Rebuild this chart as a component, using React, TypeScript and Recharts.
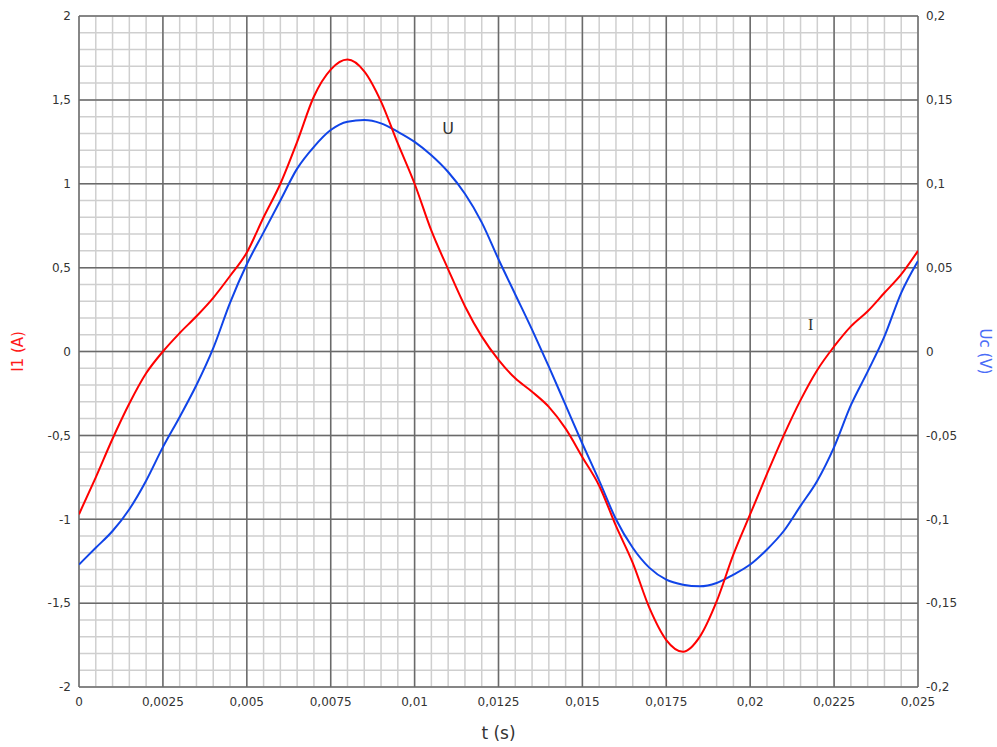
import { LineChart, Line, XAxis, YAxis, CartesianGrid, ReferenceDot } from "recharts"

// time samples (s), every 0.0005 s
const TIME = [
  0, 0.0005, 0.001, 0.0015, 0.002, 0.0025, 0.003, 0.0035, 0.004, 0.0045,
  0.005, 0.0055, 0.006, 0.0065, 0.007, 0.0075, 0.008, 0.0085, 0.009, 0.0095,
  0.01, 0.0105, 0.011, 0.0115, 0.012, 0.0125, 0.013, 0.0135, 0.014, 0.0145,
  0.015, 0.0155, 0.016, 0.0165, 0.017, 0.0175, 0.018, 0.0185, 0.019, 0.0195,
  0.02, 0.0205, 0.021, 0.0215, 0.022, 0.0225, 0.023, 0.0235, 0.024, 0.0245, 0.025,
]

// I1 (A), left axis
const CURRENT = [
  -0.97, -0.75, -0.52, -0.31, -0.13, 0.0, 0.11, 0.21, 0.32, 0.45,
  0.59, 0.8, 1.0, 1.25, 1.52, 1.68, 1.74, 1.67, 1.49, 1.24,
  1.0, 0.72, 0.49, 0.27, 0.09, -0.05, -0.16, -0.24, -0.33, -0.46,
  -0.63, -0.8, -1.04, -1.26, -1.53, -1.72, -1.79, -1.7, -1.49, -1.21,
  -0.97, -0.73, -0.5, -0.29, -0.11, 0.03, 0.15, 0.24, 0.35, 0.46, 0.6,
]

// Uc (V), right axis
const VOLTAGE = [
  -0.127, -0.117, -0.107, -0.094, -0.077, -0.057, -0.039, -0.02, 0.002, 0.029,
  0.052, 0.071, 0.09, 0.109, 0.122, 0.132, 0.137, 0.138, 0.136, 0.131,
  0.125, 0.117, 0.107, 0.094, 0.077, 0.055, 0.034, 0.013, -0.009, -0.032,
  -0.055, -0.077, -0.1, -0.117, -0.129, -0.136, -0.139, -0.14, -0.138, -0.133,
  -0.127, -0.118, -0.107, -0.092, -0.077, -0.057, -0.032, -0.012, 0.009, 0.035, 0.054,
]

const T_TICKS = [0, 0.0025, 0.005, 0.0075, 0.01, 0.0125, 0.015, 0.0175, 0.02, 0.0225, 0.025]
const I_TICKS = [-2, -1.5, -1, -0.5, 0, 0.5, 1, 1.5, 2]
const U_TICKS = [-0.2, -0.15, -0.1, -0.05, 0, 0.05, 0.1, 0.15, 0.2]

// fine grid: 5 divisions per major cell
const T_MINOR = Array.from({ length: 51 }, (_, k) => k * 0.0005)
const I_MINOR = Array.from({ length: 41 }, (_, k) => (k - 20) / 10)

const data = TIME.map((t, k) => ({ t, i: CURRENT[k], u: VOLTAGE[k] }))

const comma = (v: number) => String(v).replace(".", ",")
const tickStyle = { fill: "#333", fontSize: 12, fontFamily: "DejaVu Sans" }

function LeftTitle({ viewBox }: any) {
  const x = viewBox.x + 18
  const y = viewBox.y + viewBox.height / 2
  return (
    <text x={x} y={y} transform={`rotate(-90 ${x} ${y})`} textAnchor="middle"
      dominantBaseline="central" fill="#ff1a1a" fontSize={15} fontFamily="DejaVu Sans">
      I1 (A)
    </text>
  )
}

function RightTitle({ viewBox }: any) {
  const x = viewBox.x + 67
  const y = viewBox.y + viewBox.height / 2
  return (
    <text x={x} y={y} transform={`rotate(90 ${x} ${y})`} textAnchor="middle"
      dominantBaseline="central" fill="#4a6cf7" fontSize={15} fontFamily="DejaVu Sans">
      Uc (V)
    </text>
  )
}

function BottomTitle({ viewBox }: any) {
  return (
    <text x={viewBox.x + viewBox.width / 2} y={viewBox.y + 46} textAnchor="middle"
      dominantBaseline="central" fill="#333" fontSize={17} fontFamily="DejaVu Sans">
      t (s)
    </text>
  )
}

export default function App() {
  return (
    <div style={{ position: "absolute", left: 0, top: 0, background: "#fff", fontFamily: "DejaVu Sans" }}>
      <LineChart width={997} height={747} data={data} margin={{ top: 16, right: 0, bottom: 0, left: 0 }}>
        <XAxis xAxisId="t" dataKey="t" type="number" domain={[0, 0.025]} ticks={T_TICKS} height={60}
          tickFormatter={comma} tick={tickStyle} tickLine={false} axisLine={false} interval={0}
          tickMargin={4} allowDataOverflow label={<BottomTitle />} />
        <YAxis yAxisId="I" orientation="left" type="number" domain={[-2, 2]} ticks={I_TICKS} width={79}
          tickFormatter={comma} tick={tickStyle} tickLine={false} axisLine={false} interval={0}
          allowDataOverflow label={<LeftTitle />} />
        <YAxis yAxisId="U" orientation="right" type="number" domain={[-0.2, 0.2]} ticks={U_TICKS} width={79}
          tickFormatter={comma} tick={tickStyle} tickLine={false} axisLine={false} interval={0}
          allowDataOverflow label={<RightTitle />} />
        <XAxis xAxisId="minor" dataKey="t" type="number" domain={[0, 0.025]} ticks={T_MINOR} height={0}
          interval={0} hide allowDataOverflow />
        <YAxis yAxisId="minor" type="number" domain={[-2, 2]} ticks={I_MINOR} width={0}
          interval={0} hide allowDataOverflow />

        <CartesianGrid xAxisId="minor" yAxisId="minor" stroke="#cfcfcf" strokeWidth={1.5} />
        <CartesianGrid xAxisId="t" yAxisId="I" stroke="#6a6a6a" strokeWidth={1.5} />

        <Line xAxisId="t" yAxisId="U" dataKey="u" type="monotone" stroke="#1044e8" strokeWidth={2}
          dot={false} isAnimationActive={false} />
        <Line xAxisId="t" yAxisId="I" dataKey="i" type="monotone" stroke="#ff0000" strokeWidth={2}
          dot={false} isAnimationActive={false} />

        <ReferenceDot xAxisId="t" yAxisId="I" x={0.011} y={1.33} r={0} fill="none" stroke="none"
          label={{ value: "U", position: "center", fill: "#333", fontSize: 16, fontFamily: "DejaVu Sans" }} />
        <ReferenceDot xAxisId="t" yAxisId="I" x={0.0218} y={0.16} r={0} fill="none" stroke="none"
          label={{ value: "I", position: "center", fill: "#333", fontSize: 16, fontFamily: "Liberation Serif" }} />
      </LineChart>
    </div>
  )
}
